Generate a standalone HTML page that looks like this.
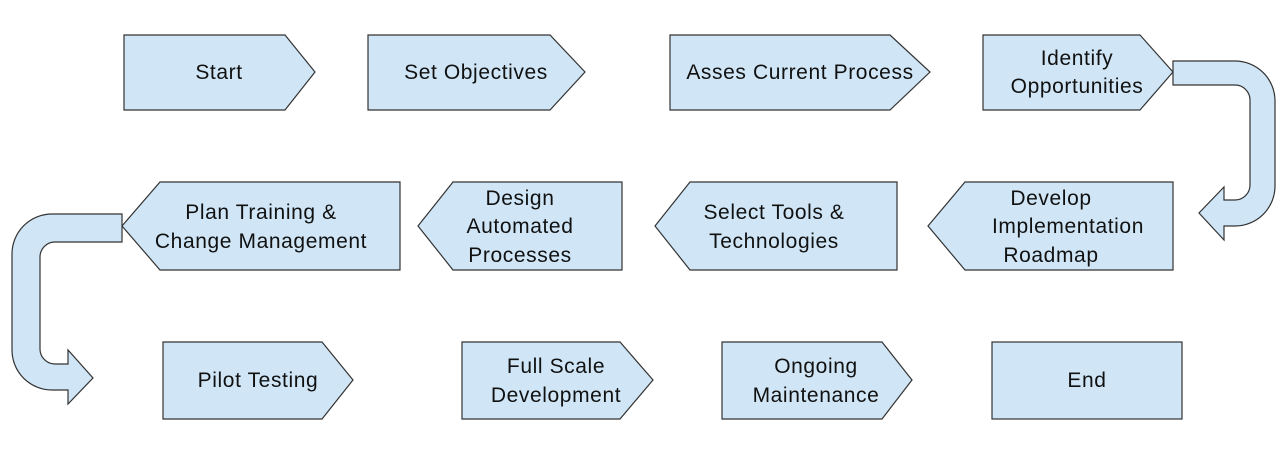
<!DOCTYPE html>
<html><head><style>body{margin:0;background:#fff}svg{display:block}text{font-family:"Liberation Sans",sans-serif;font-size:21px;letter-spacing:0.6px;fill:#111;text-anchor:middle}</style></head><body>
<svg width="1280" height="463" viewBox="0 0 1280 463">
<g fill="#d0e6f6" stroke="#333" stroke-width="1.2">
<polygon points="124,35 285,35 315,72 285,110 124,110"/>
<polygon points="368,35 550,35 585,72 550,110 368,110"/>
<polygon points="670,35 890,35 930,72 890,110 670,110"/>
<polygon points="983,35 1140,35 1173,72 1140,110 983,110"/>
<polygon points="160,182 400,182 400,270 160,270 122,226"/>
<polygon points="453,182 622,182 622,270 453,270 418,226"/>
<polygon points="690,182 897,182 897,270 690,270 655,226"/>
<polygon points="965,182 1173,182 1173,270 965,270 928,226"/>
<polygon points="163,342 322,342 353,380 322,419 163,419"/>
<polygon points="462,342 620,342 653,380 620,419 462,419"/>
<polygon points="722,342 882,342 912,380 882,419 722,419"/>
<rect x="992" y="342" width="190" height="77"/>
<path d="M1173,61 L1235,61 A40,40 0 0 1 1275,101 L1275,186 A40,40 0 0 1 1235,226 L1224,226 L1224,240 L1199,213 L1224,187 L1224,200 L1235,200 A15,15 0 0 0 1250,185 L1250,100 A15,15 0 0 0 1235,85 L1173,85 Z"/>
<path d="M122,214 L52,214 A40,40 0 0 0 12,254 L12,350 A40,40 0 0 0 52,390 L68,390 L68,404 L93,378 L68,350 L68,364 L55,364 A15,15 0 0 1 40,349 L40,257 A15,15 0 0 1 55,242 L122,242 Z"/>
</g>
<text x="219" y="79">Start</text>
<text x="476" y="79">Set Objectives</text>
<text x="800" y="79">Asses Current Process</text>
<text x="1077" y="65">Identify</text>
<text x="1077" y="93">Opportunities</text>
<text x="261" y="219">Plan Training &amp;</text>
<text x="261" y="248">Change Management</text>
<text x="520" y="205">Design</text>
<text x="520" y="233">Automated</text>
<text x="520" y="262">Processes</text>
<text x="774" y="219">Select Tools &amp;</text>
<text x="774" y="248">Technologies</text>
<text x="1051" y="205">Develop</text>
<text x="1068" y="233">Implementation</text>
<text x="1051" y="262">Roadmap</text>
<text x="258" y="387">Pilot Testing</text>
<text x="556" y="373">Full Scale</text>
<text x="556" y="402">Development</text>
<text x="816" y="373">Ongoing</text>
<text x="816" y="402">Maintenance</text>
<text x="1087" y="387">End</text>
</svg>
</body></html>
